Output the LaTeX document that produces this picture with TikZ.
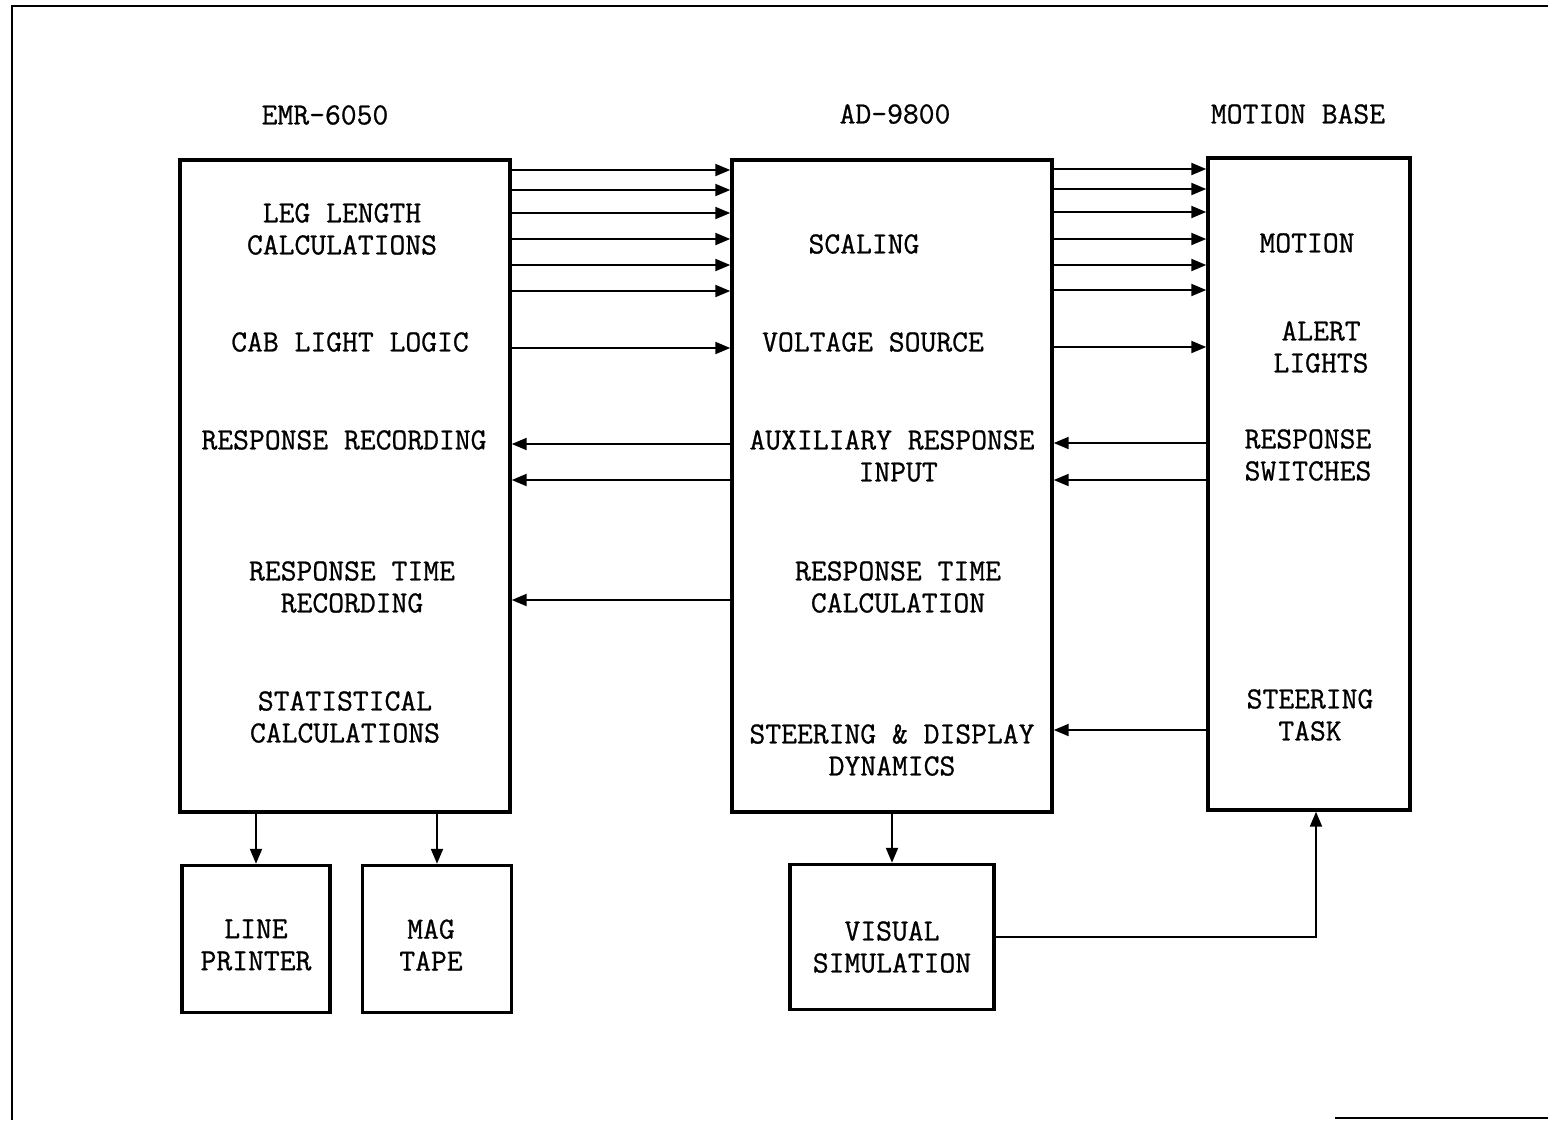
\documentclass[tikz,border=0pt]{standalone}
\usepackage{fontspec}
\newfontfamily\typefont{Latin Modern Mono}[FakeBold=0.8]
\usetikzlibrary{arrows.meta}

\tikzset{
	unit/.style={draw, line width=2pt, minimum height=13.04cm},
	sink/.style={draw, line width=2pt},
	lbl/.style={align=center, font=\typefont\fontsize{17.5}{18.2}\selectfont},
	arr/.style={line width=1.2pt, -{Triangle[length=0.3cm,width=0.24cm]}},
}

\begin{document}
\begin{tikzpicture}[x=0.02cm, y=-0.02cm]
	\useasboundingbox (0,0) rectangle (1548,1120);
	% page frame
	\draw [line width=1pt] (1548,6) -- (12,6) -- (12,1120);
	\draw [line width=1pt] (1335,1118) -- (1548,1118);

	% titles
	\node [lbl] (emrtitle) at (325,115) {EMR-6050};
	\node [lbl] (adtitle) at (895,114) {AD-9800};
	\node [lbl] (mbtitle) at (1298,114) {MOTION BASE};

	% main units
	\node [unit, minimum width=6.6cm] (emr) at (345,486) {};
	\node [unit, minimum width=6.4cm] (ad) at (892,486) {};
	\node [unit, minimum width=4.04cm] (mb) at (1309,484) {};

	% peripherals
	\node [sink, minimum width=2.96cm, minimum height=2.94cm] (lp) at (256,939) {};
	\node [sink, minimum width=2.98cm, minimum height=2.94cm] (mt) at (437,939) {};
	\node [sink, minimum width=4.08cm, minimum height=2.9cm] (vs) at (892,937) {};

	% texts in EMR-6050
	\node [lbl] (leg) at (342,229) {LEG LENGTH\\CALCULATIONS};
	\node [lbl] (cab) at (350,342) {CAB LIGHT LOGIC};
	\node [lbl] (rrec) at (344,440) {RESPONSE RECORDING};
	\node [lbl] (rtrec) at (352,587) {RESPONSE TIME\\RECORDING};
	\node [lbl] (stat) at (345,717) {STATISTICAL\\CALCULATIONS};

	% texts in AD-9800
	\node [lbl] (scal) at (864,244) {SCALING};
	\node [lbl] (volt) at (873,342) {VOLTAGE SOURCE};
	\node [lbl] (aux) at (892,456) {AUXILIARY RESPONSE\\\hspace*{0.4em}INPUT};
	\node [lbl] (rtcalc) at (898,587) {RESPONSE TIME\\CALCULATION};
	\node [lbl] (steer) at (892,750) {STEERING \& DISPLAY\\DYNAMICS};

	% texts in motion base
	\node [lbl] (motion) at (1307,243) {MOTION};
	\node [lbl] (alert) at (1321,347) {ALERT\\LIGHTS};
	\node [lbl] (rsw) at (1308,455) {RESPONSE\\SWITCHES};
	\node [lbl] (task) at (1310,715) {STEERING\\TASK};

	% texts in peripherals
	\node [lbl] (lptext) at (256,945) {LINE\\PRINTER};
	\node [lbl] (mttext) at (431,945) {MAG\\TAPE};
	\node [lbl] (vstext) at (892,947) {VISUAL\\SIMULATION};

	% signals to the right
	\foreach \y in {170,190,213,239,265,291,348}
		\draw [arr] (emr.east |- 0,\y) -- (ad.west |- 0,\y);
	\foreach \y in {169,189,212,239,265,290,347}
		\draw [arr] (ad.east |- 0,\y) -- (mb.west |- 0,\y);

	% signals to the left
	\foreach \y in {444,480,600}
		\draw [arr] (ad.west |- 0,\y) -- (emr.east |- 0,\y);
	\foreach \y in {443,480,730}
		\draw [arr] (mb.west |- 0,\y) -- (ad.east |- 0,\y);

	% outputs
	\draw [arr] (lp.north |- emr.south) -- (lp.north);
	\draw [arr] (mt.north |- emr.south) -- (mt.north);
	\draw [arr] (vs.north |- ad.south) -- (vs.north);
	\draw [arr] (vs.east) -| (1316,0 |- mb.south);
\end{tikzpicture}
\end{document}
